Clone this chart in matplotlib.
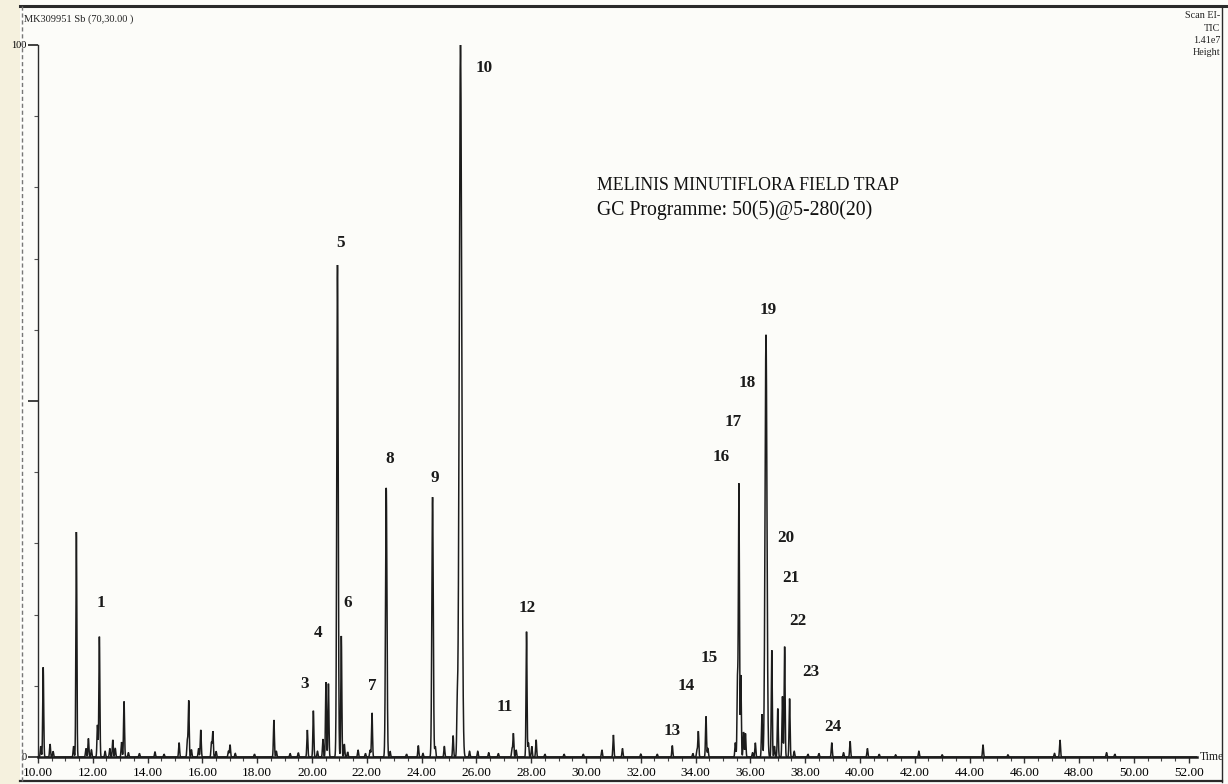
import numpy as np
import matplotlib
matplotlib.use("Agg")
import matplotlib.pyplot as plt
from matplotlib.lines import Line2D
from matplotlib.patches import Rectangle
from matplotlib.ticker import MultipleLocator

plt.rcParams["font.family"] = ["Liberation Serif", "DejaVu Serif"]

# Retention time (min) and relative abundance (% of largest peak) of every peak
peak_times = [
    10.10, 10.19, 10.44, 10.55,
    11.30, 11.40, 11.75, 11.84, 11.95,
    12.17, 12.24, 12.45, 12.62, 12.73, 12.82,
    13.05, 13.14, 13.30, 13.70, 14.27, 14.60,
    15.15, 15.45, 15.50, 15.60, 15.86, 15.94,
    16.33, 16.38, 16.50, 16.95, 17.01, 17.20,
    17.90, 18.61, 18.70, 19.20, 19.50,
    19.83, 20.05, 20.20, 20.40, 20.51, 20.60,
    20.93, 21.07, 21.18, 21.30, 21.68, 21.95,
    22.12, 22.19, 22.71, 22.85,
    23.45, 23.88, 24.05, 24.40, 24.50, 24.83,
    25.15, 25.30, 25.42, 25.75, 26.05, 26.45, 26.80,
    27.30, 27.35, 27.45, 27.83, 27.90, 28.02, 28.18,
    28.50, 29.20, 29.90, 30.58, 31.00, 31.33, 32.00, 32.60,
    33.15, 33.90, 34.05, 34.10, 34.38, 34.45,
    35.45, 35.53, 35.58, 35.65, 35.75, 35.82,
    36.08, 36.18, 36.42, 36.57,
    36.78, 36.88, 37.00, 37.17, 37.25, 37.43,
    37.60, 38.10, 38.50, 38.97, 39.40, 39.64, 40.27,
    40.70, 41.30, 42.15, 43.00, 44.49, 45.40, 47.10, 47.30, 49.00, 49.30,
]
peak_heights = [
    1.5, 12.6, 1.8, 0.8,
    1.5, 31.6, 1.2, 2.6, 1.0,
    4.5, 16.9, 0.8, 1.2, 2.4, 1.2,
    2.1, 7.8, 0.6, 0.5, 0.7, 0.4,
    2.0, 2.3, 7.9, 1.0, 1.2, 3.8,
    2.0, 3.6, 0.8, 0.8, 1.7, 0.5,
    0.4, 5.2, 0.8, 0.5, 0.6,
    3.8, 6.5, 0.8, 2.5, 10.5, 10.3,
    69.1, 17.0, 1.8, 0.7, 1.0, 0.5,
    1.0, 6.2, 37.8, 0.8,
    0.4, 1.6, 0.5, 36.5, 1.5, 1.5,
    3.0, 6.0, 100.0, 0.8, 0.8, 0.6, 0.5,
    1.2, 3.3, 1.0, 17.6, 2.0, 1.5, 2.4,
    0.4, 0.4, 0.4, 1.0, 3.1, 1.2, 0.4, 0.4,
    1.6, 0.5, 1.0, 3.6, 5.7, 1.2,
    2.0, 11.0, 38.2, 11.5, 3.5, 3.3,
    0.6, 2.0, 6.0, 59.3,
    15.0, 1.5, 6.8, 8.5, 15.5, 8.2,
    0.8, 0.4, 0.5, 2.0, 0.6, 2.2, 1.2,
    0.4, 0.3, 0.8, 0.3, 1.7, 0.3, 0.5, 2.4, 0.6, 0.4,
]
# Peaks that elute broader than the rest (retention time -> width in min)
broad_peaks = {25.42: 0.045, 36.57: 0.035, 24.40: 0.026, 22.71: 0.026, 20.93: 0.026}

# Numbered peaks
peak_numbers = ["1", "3", "4", "5", "6", "7", "8", "9", "10", "11", "12", "13",
                "14", "15", "16", "17", "18", "19", "20", "21", "22", "23", "24"]

x_ticks = [10, 12, 14, 16, 18, 20, 22, 24, 26, 28, 30, 32, 34, 36, 38, 40,
           42, 44, 46, 48, 50, 52]

run_id = "MK309951 Sb (70,30.00 )"
scan_info = ["Scan EI-", "TIC", "1.41e7", "Height"]
title_lines = ["MELINIS MINUTIFLORA FIELD TRAP", "GC Programme: 50(5)@5-280(20)"]

# Where each peak number sits (time, %)
label_xy = [(12.30, 21.6), (19.74, 10.3), (20.22, 17.4), (21.06, 72.2),
            (21.31, 21.6), (22.19, 10.0), (22.85, 41.9), (24.49, 39.2),
            (26.28, 96.8), (27.04, 7.0), (27.85, 20.9), (33.14, 3.7),
            (33.65, 10.0), (34.49, 13.9), (34.93, 42.1), (35.36, 47.1),
            (35.88, 52.5), (36.64, 62.8), (37.30, 30.8), (37.48, 25.1),
            (37.74, 19.1), (38.21, 11.9), (39.01, 4.2)]

# ---- build the trace from the peak table ----
t = np.arange(9.95, 52.3, 0.002)
signal = np.zeros_like(t)
for rt, h in zip(peak_times, peak_heights):
    w = broad_peaks.get(rt, 0.018)
    signal += h * np.exp(-0.5 * ((t - rt) / w) ** 2)

W, H = 1228, 784
fig = plt.figure(figsize=(W / 100, H / 100), dpi=100, facecolor="#fcfcf9")

def fx(px):
    return px / W

def fy(py):
    return 1 - py / H

# paper margin to the left of the printed frame
fig.add_artist(Rectangle((0, 0), fx(20), 1, transform=fig.transFigure,
                         facecolor="#f5f1de", edgecolor="none", zorder=0))

x0, x1 = 38, 1197
ax = fig.add_axes([fx(x0), fy(757), fx(x1 - x0), (757 - 45) / H])
ax.set_facecolor("none")
ax.plot(t, signal, color="#1c1c1c", lw=1.1, solid_joinstyle="miter")
ax.set_xlim(10.0, 52.3)
ax.set_ylim(0, 100)

for s in ("top", "right"):
    ax.spines[s].set_visible(False)
ax.spines["left"].set_color("#2a2a2a")
ax.spines["left"].set_linewidth(1.0)
ax.spines["bottom"].set_color("#1c1c1c")
ax.spines["bottom"].set_linewidth(1.8)

ax.set_xticks(x_ticks)
ax.set_xticklabels([f"{v:.2f}" for v in x_ticks], fontsize=9.5)
ax.xaxis.set_minor_locator(MultipleLocator(0.5))
ax.tick_params(axis="x", which="major", length=4, width=1, pad=3, color="#333")
ax.tick_params(axis="x", which="minor", length=3, width=0.8, color="#444")

ax.set_yticks([0, 50, 100])
ax.set_yticklabels(["0", "", "100"], fontsize=7.5)
ax.yaxis.set_minor_locator(MultipleLocator(10))
ax.tick_params(axis="y", which="major", length=7, width=1.2, pad=1, color="#222")
ax.tick_params(axis="y", which="minor", length=3, width=0.8, color="#555")

for txt, (lx, ly) in zip(peak_numbers, label_xy):
    ax.text(lx, ly, txt, ha="center", va="center", fontsize=12.3,
            fontweight="bold", color="#1a1a1a")

ax.text(1.002, 0.0, "Time", transform=ax.transAxes, ha="left", va="center",
        fontsize=8.5, color="#222")

# ---- header and programme notes ----
fig.text(fx(24), fy(19), run_id, ha="left", va="center", fontsize=7.5, color="#222")
for i, line in enumerate(scan_info):
    fig.text(fx(1220), fy(16 + 12.2 * i), line, ha="right", va="center",
             fontsize=7.3, color="#222")
fig.text(fx(597), fy(186), title_lines[0], ha="left", va="center",
         fontsize=12.8, color="#111")
fig.text(fx(597), fy(210), title_lines[1], ha="left", va="center",
         fontsize=14.2, color="#111")

# ---- printed frame around the record ----
frame = dict(transform=fig.transFigure, color="#2a2a2a")
fig.add_artist(Line2D([fx(20), 1.0], [fy(6), fy(6)], lw=2.2, **frame))
fig.add_artist(Line2D([fx(1222), fx(1222)], [fy(6), fy(782)], lw=1.0, **frame))
fig.add_artist(Line2D([fx(20), fx(1222)], [fy(781), fy(781)], lw=1.6, **frame))
fig.add_artist(Line2D([fx(22), fx(22)], [fy(6), fy(781)], lw=1.0, ls=(0, (3, 2)),
                      transform=fig.transFigure, color="#777"))

fig.savefig("out.png", dpi=100, facecolor=fig.get_facecolor())
